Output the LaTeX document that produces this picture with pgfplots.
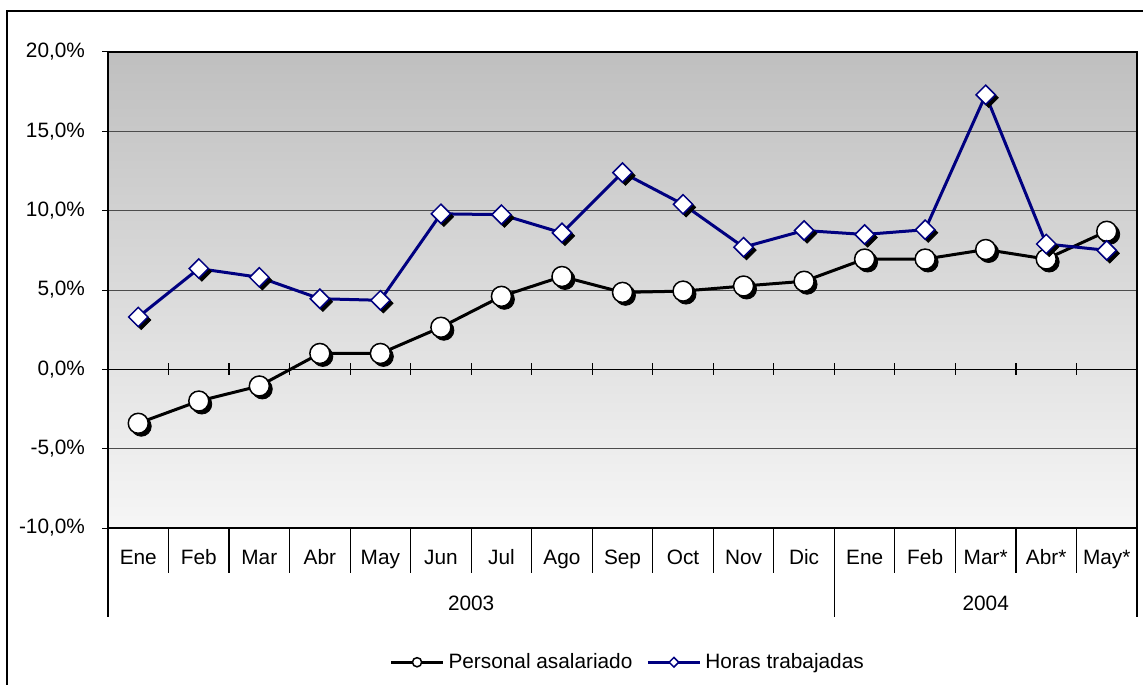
\documentclass[border=0pt]{standalone}
\usepackage{fontspec}
\setmainfont{Liberation Sans}
\usepackage{pgfplots}
\usepackage{pgfplotstable}
\pgfplotsset{compat=1.18}
\definecolor{navyline}{RGB}{0,0,128}
\definecolor{bgtop}{RGB}{191,191,191}
\definecolor{bgbot}{RGB}{246,246,246}

\pgfplotstableread{
x p h
0 -3.4 3.3
1 -2.0 6.35
2 -1.05 5.8
3 1.0 4.45
4 1.0 4.35
5 2.65 9.8
6 4.6 9.75
7 5.85 8.6
8 4.85 12.4
9 4.93 10.4
10 5.25 7.7
11 5.55 8.75
12 6.95 8.5
13 6.95 8.8
14 7.55 17.3
15 6.95 7.9
16 8.7 7.5
}\data

\begin{document}
\begin{tikzpicture}[font=\fontsize{10.4}{12.5}\selectfont]
\path[use as bounding box] (0,0) rectangle (571.5pt,342pt);
\draw[line width=1pt] (3.5pt,-10pt) -- (3.5pt,336.5pt) -- (580pt,336.5pt);
\begin{axis}[
  at={(54pt,78pt)}, anchor=south west,
  width=514.5pt, height=238pt, scale only axis,
  xmin=-0.5, xmax=16.5, ymin=-10, ymax=20,
  axis background/.style={top color=bgtop, bottom color=bgbot},
  ytick={-10,-5,0,5,10,15,20},
  yticklabels={{-10,0\%},{-5,0\%},{0,0\%},{5,0\%},{10,0\%},{15,0\%},{20,0\%}},
  ymajorgrids, grid style={black!70, line width=0.5pt},
  xtick={0,...,16},
  xticklabels={Ene,Feb,Mar,Abr,May,Jun,Jul,Ago,Sep,Oct,Nov,Dic,Ene,Feb,Mar*,Abr*,May*},
  xtick style={draw=none},
  xticklabel style={anchor=base, yshift=-15pt},
  ytick style={black, line width=0.5pt},
  ytick pos=left,
  tick align=outside, major tick length=3pt,
  yticklabel style={anchor=east, xshift=-5pt},
  axis line style={black, line width=0.6pt},
  clip=false,
  legend columns=2,
  legend style={draw=none, fill=none, at={(0.506,-0.282)}, anchor=center,
    /tikz/every even column/.append style={column sep=5pt}},
  legend image code/.code={\draw[mark repeat=2, mark phase=2, #1] plot coordinates {(0pt,0pt) (13pt,0pt) (26pt,0pt)};},
]
\draw[black, line width=0.75pt] (axis cs:-0.5,0) -- (axis cs:16.5,0);
\pgfplotsinvokeforeach{0,...,16}{\draw[black, line width=0.6pt] (axis cs:#1+0.5,0) ++(0pt,3pt) -- ++(0pt,-6pt);}
\pgfplotsinvokeforeach{0,...,15}{\draw[black, line width=0.6pt] (axis cs:#1+0.5,-10) -- ++(0pt,-22.5pt);}
\draw[black, line width=0.6pt] (axis cs:-0.5,-10) -- ++(0pt,-44.5pt);
\draw[black, line width=0.6pt] (axis cs:11.5,-10) -- ++(0pt,-44.5pt);
\draw[black, line width=0.6pt] (axis cs:16.5,-10) -- ++(0pt,-44.5pt);
\node[anchor=base, yshift=-41pt] at (axis cs:5.5,-10) {2003};
\node[anchor=base, yshift=-41pt] at (axis cs:14,-10) {2004};

\addplot[forget plot, only marks, mark=*, mark size=5pt,
  mark options={xshift=1.5pt, yshift=-1.5pt, fill=black, draw=black}] table[x=x,y=p]{\data};
\addplot[black, line width=1.5pt, mark=*, mark size=5pt,
  mark options={fill=white, draw=black, line width=0.75pt},
  legend image post style={mark size=2.3pt}] table[x=x,y=p]{\data};
\addlegendentry{Personal asalariado}
\addplot[forget plot, only marks, mark=square*, mark size=3.4pt,
  mark options={xshift=1.5pt, yshift=-1.5pt, rotate=45, fill=black, draw=black}] table[x=x,y=h]{\data};
\addplot[navyline, line width=1.5pt, mark=square*, mark size=3.4pt,
  mark options={rotate=45, fill=white, draw=navyline, line width=0.75pt},
  legend image post style={mark size=1.7pt}] table[x=x,y=h]{\data};
\addlegendentry{Horas trabajadas}
\end{axis}
\end{tikzpicture}
\end{document}
